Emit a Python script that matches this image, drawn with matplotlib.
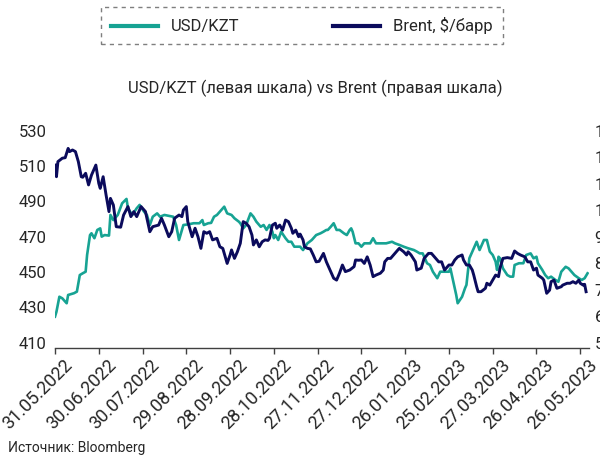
import datetime as dt
import matplotlib
matplotlib.use("Agg")
import matplotlib.pyplot as plt
import matplotlib.transforms as mtransforms
from matplotlib.lines import Line2D

plt.rcParams['font.family'] = ['Roboto', 'DejaVu Sans']

# day offsets are counted from the first date of the chart
start = dt.date(2022, 5, 31)
end = dt.date(2023, 6, 1)

kzt_days = [0, 1, 3, 5, 8, 9, 13, 15, 17, 19,
            21, 22, 24, 25, 27, 29, 31, 32, 34, 37,
            38, 40, 43, 46, 49, 50, 53, 56, 58, 61,
            63, 65, 67, 70, 72, 75, 81, 83, 85, 88,
            91, 95, 99, 101, 102, 105, 107, 109, 111, 113,
            116, 118, 121, 123, 126, 127, 129, 131, 134, 136,
            138, 141, 143, 145, 147, 149, 150, 151, 153, 155,
            158, 160, 162, 164, 168, 170, 173, 176, 179, 182,
            184, 186, 187, 189, 191, 193, 195, 198, 200, 202,
            203, 204, 206, 208, 210, 212, 216, 218, 220, 224,
            227, 231, 233, 236, 239, 242, 246, 248, 250, 252,
            255, 257, 259, 262, 264, 266, 270, 271, 273, 275,
            276, 279, 281, 282, 283, 284, 287, 289, 291, 292,
            294, 296, 298, 300, 302, 303, 304, 305, 307, 310,
            312, 314, 315, 318, 321, 323, 326, 328, 330, 331,
            334, 336, 338, 340, 343, 345, 347, 350, 352, 354,
            356, 359, 361, 363, 365]
kzt = [427.5, 430.3, 438.8, 437.9, 435.1, 439.8, 440.8, 441.7, 451.1, 452.1,
       453.0, 462.5, 473.8, 474.8, 472.0, 476.7, 477.6, 472.9, 473.8, 473.5,
       485.2, 482.3, 485.2, 491.8, 494.3, 489.0, 485.2, 489.0, 490.9, 487.1,
       485.2, 479.5, 484.2, 486.1, 484.2, 485.2, 484.2, 479.5, 471.0, 479.5,
       479.8, 480.5, 480.5, 482.3, 479.5, 480.5, 480.7, 484.2, 485.2, 487.1,
       489.9, 486.1, 485.2, 483.3, 481.4, 480.5, 477.6, 479.5, 486.1, 484.2,
       481.4, 478.5, 479.5, 476.7, 479.5, 475.7, 472.0, 473.8, 471.0, 475.7,
       472.0, 470.0, 470.0, 467.2, 467.2, 465.3, 469.1, 471.0, 473.8, 474.8,
       475.7, 476.7, 476.7, 478.5, 480.5, 476.7, 476.7, 474.8, 473.8, 476.7,
       477.6, 475.7, 469.1, 469.1, 467.2, 469.1, 469.1, 472.0, 469.1, 469.1,
       469.1, 470.0, 469.1, 468.2, 467.2, 466.3, 465.3, 464.4, 463.4, 463.4,
       457.8, 456.8, 453.0, 449.3, 453.0, 453.0, 453.0, 454.9, 447.3, 439.8,
       435.1, 438.8, 443.6, 445.5, 453.0, 460.6, 466.3, 470.0, 465.3, 467.2,
       471.0, 471.0, 464.4, 462.5, 458.7, 454.0, 461.5, 460.6, 454.9, 451.1,
       450.2, 450.2, 456.8, 457.8, 457.8, 462.5, 463.4, 460.6, 461.5, 457.8,
       454.0, 451.1, 449.3, 450.2, 448.3, 447.3, 453.0, 455.8, 454.9, 453.0,
       451.1, 449.3, 448.3, 449.3, 452.1]

brent_days = [0, 1, 2, 5, 7, 9, 10, 12, 14, 16,
              18, 19, 21, 23, 25, 28, 30, 31, 33, 35,
              37, 38, 40, 42, 45, 47, 50, 52, 54, 56,
              59, 62, 65, 67, 71, 73, 75, 78, 80, 82,
              85, 87, 88, 90, 91, 94, 96, 98, 100, 102,
              104, 106, 108, 111, 113, 115, 117, 118, 120, 121,
              123, 125, 127, 129, 131, 133, 135, 136, 138, 140,
              142, 144, 146, 147, 149, 151, 152, 154, 156, 158,
              160, 162, 163, 165, 167, 168, 170, 171, 173, 175,
              177, 179, 181, 184, 186, 189, 191, 193, 195, 197,
              199, 202, 205, 206, 208, 210, 212, 214, 216, 218,
              220, 223, 225, 226, 228, 230, 232, 235, 236, 239,
              241, 242, 244, 247, 248, 251, 253, 256, 258, 260,
              263, 265, 267, 270, 272, 274, 276, 279, 280, 282,
              284, 286, 287, 289, 290, 292, 295, 296, 298, 300,
              302, 304, 305, 307, 310, 313, 315, 317, 319, 322,
              324, 326, 328, 330, 331, 334, 335, 337, 339, 340,
              342, 344, 347, 348, 351, 353, 355, 357, 359, 360,
              362, 363, 364]
brent = [119.0, 114.6, 120.3, 121.6, 121.8, 125.3, 124.1, 124.7, 124.1, 120.3,
         114.6, 114.4, 115.9, 111.5, 115.2, 119.0, 112.1, 110.2, 114.6, 107.7,
         101.4, 106.4, 103.9, 95.7, 95.5, 100.1, 103.3, 99.5, 101.4, 99.5,
         103.3, 101.4, 93.8, 95.7, 96.3, 98.9, 96.3, 91.9, 93.8, 98.9,
         100.1, 99.5, 102.0, 103.3, 97.6, 91.9, 95.1, 91.9, 87.5, 93.8,
         93.2, 93.8, 90.7, 91.3, 88.1, 87.5, 83.7, 81.8, 85.0, 86.9,
         83.7, 86.2, 89.4, 97.6, 97.0, 95.7, 92.5, 88.8, 90.7, 88.1,
         90.0, 90.7, 90.5, 91.3, 96.3, 97.0, 95.1, 96.3, 94.4, 98.2,
         97.6, 95.1, 93.2, 94.4, 91.9, 92.9, 90.7, 88.1, 87.5, 87.3,
         85.0, 82.4, 82.6, 85.6, 82.4, 78.7, 76.2, 75.5, 78.1, 81.2,
         78.7, 79.3, 80.6, 83.1, 83.0, 83.1, 81.8, 84.3, 81.2, 76.8,
         77.4, 78.1, 79.3, 82.4, 83.7, 83.7, 85.0, 86.9, 87.5, 86.2,
         85.0, 86.2, 85.0, 82.4, 79.3, 80.0, 83.7, 85.6, 85.6, 84.3,
         82.4, 82.4, 79.3, 81.2, 81.2, 83.1, 84.3, 85.0, 83.1, 81.2,
         81.2, 79.3, 77.4, 73.0, 71.1, 71.1, 72.4, 74.3, 73.6, 75.5,
         77.4, 76.8, 80.0, 83.7, 84.0, 83.7, 86.5, 85.6, 85.0, 84.3,
         82.4, 82.4, 79.3, 80.0, 77.4, 76.2, 75.5, 70.5, 71.7, 74.9,
         75.5, 72.4, 73.0, 73.6, 74.3, 74.3, 74.9, 74.3, 75.5, 74.3,
         73.6, 73.9, 71.1]

tick_labels = ['31.05.2022', '30.06.2022', '30.07.2022', '29.08.2022',
               '28.09.2022', '28.10.2022', '27.11.2022', '27.12.2022',
               '26.01.2023', '25.02.2023', '27.03.2023', '26.04.2023',
               '26.05.2023']

teal = '#17a393'
navy = '#0b0b5c'
text_col = '#262626'

kzt_dates = [start + dt.timedelta(days=d) for d in kzt_days]
brent_dates = [start + dt.timedelta(days=d) for d in brent_days]
tick_dates = [dt.datetime.strptime(s, '%d.%m.%Y').date() for s in tick_labels]

fig = plt.figure(figsize=(6, 4.61), dpi=100)
ax = fig.add_axes([55 / 600, 113.5 / 461, 534 / 600, 211.5 / 461])
ax2 = ax.twinx()

ax.plot(kzt_dates, kzt, color=teal, lw=1.9)
ax2.plot(brent_dates, brent, color=navy, lw=2.1)

ax.set_xlim(start, end)
ax.set_ylim(410, 530)
ax.set_yticks(range(410, 531, 20))
ax2.set_ylim(50, 130)
ax2.set_yticks(range(50, 131, 10))

ax.set_xticks(tick_dates)
ax.set_xticklabels(tick_labels, rotation=45, ha='right', rotation_mode='anchor',
                   fontsize=13)

for s in ['top', 'left', 'right']:
    ax.spines[s].set_visible(False)
for s in ax2.spines.values():
    s.set_visible(False)
ax.spines['bottom'].set_color('#404040')
ax.spines['bottom'].set_linewidth(1)

ax.tick_params(axis='y', length=0, pad=6, labelsize=12, labelcolor=text_col)
ax.tick_params(axis='x', length=4, width=1, color='#404040', pad=2,
               labelcolor=text_col)
ax2.tick_params(axis='y', length=0, pad=4, labelsize=12, labelcolor=text_col)

# y labels sit a bit above their gridline in the original,
# date labels end a little to the right of their tick
up = mtransforms.ScaledTranslation(0, 0.05, fig.dpi_scale_trans)
for lab in ax.get_yticklabels() + ax2.get_yticklabels():
    lab.set_transform(lab.get_transform() + up)
right = mtransforms.ScaledTranslation(0.08, 0, fig.dpi_scale_trans)
for lab in ax.get_xticklabels():
    lab.set_transform(lab.get_transform() + right)

fig.text(315 / 600, 1 - 88 / 461, 'USD/KZT (левая шкала) vs Brent (правая шкала)',
         ha='center', va='center', fontsize=12, color=text_col)

handles = [Line2D([], [], color=teal, lw=3), Line2D([], [], color=navy, lw=3)]
leg = fig.legend(handles, ['USD/KZT', 'Brent, $/барр'], loc='center',
                 bbox_to_anchor=(302 / 600, 1 - 26 / 461),
                 ncol=2, fancybox=False, edgecolor='#7f7f7f',
                 handlelength=2.8, handletextpad=0.8, columnspacing=5.6,
                 borderpad=0.6, fontsize=12, framealpha=1)
leg.get_frame().set_linestyle((0, (3, 3)))
leg.get_frame().set_linewidth(1)
for t in leg.get_texts():
    t.set_color(text_col)

fig.text(8 / 600, 1 - 448 / 461, 'Источник: Bloomberg', ha='left', va='center',
         fontsize=10, color=text_col)

fig.savefig('out.png', dpi=100)
